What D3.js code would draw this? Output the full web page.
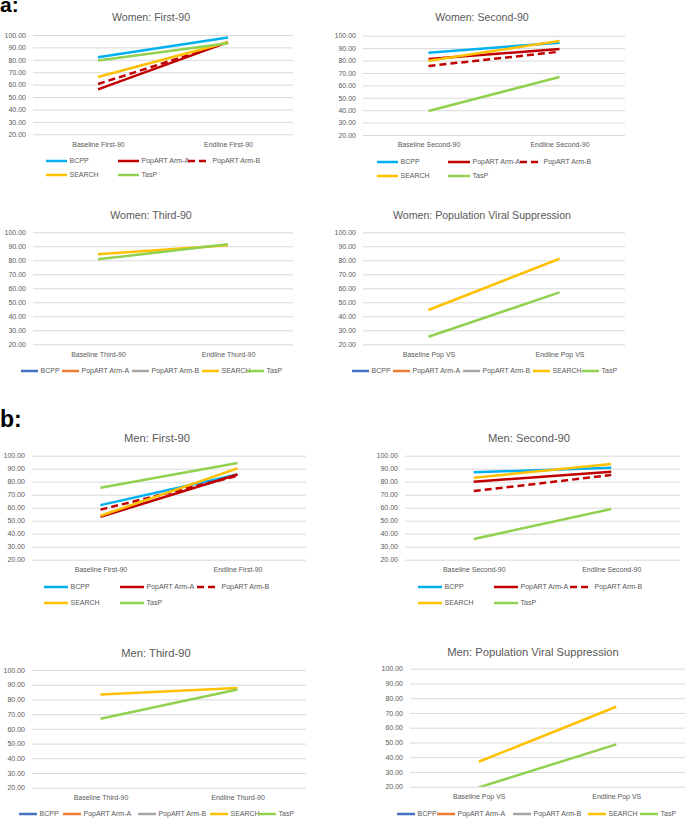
<!DOCTYPE html>
<html>
<head>
<meta charset="utf-8">
<script src="https://cdn.jsdelivr.net/npm/d3@7"></script>
<style>
  html, body { margin: 0; padding: 0; background: #fff; }
  svg { display: block; font-family: "Liberation Sans", Arial, sans-serif; }
</style>
</head>
<body>
<svg id="chart" width="685" height="820"></svg>
<script>
// ---------------- DATA ----------------
const seriesNames = ["BCPP", "PopART Arm-A", "PopART Arm-B", "SEARCH", "TasP"];
const yTickValues = [20, 30, 40, 50, 60, 70, 80, 90, 100];
const catsFirst = ["Baseline First-90", "Endline First-90"];
const catsSecond = ["Baseline Second-90", "Endline Second-90"];
const catsThird = ["Baseline Third-90", "Endline Thurd-90"];
const catsPopVS = ["Baseline Pop VS", "Endline Pop VS"];

// values [baseline, endline] in the order of seriesNames; null = not shown
const womenFirst90  = [[82.0, 97.9], [56.2, 94.3], [60.5, 94.0], [66.2, 94.1], [79.4, 93.4]];
const womenSecond90 = [[86.3, 94.4], [81.3, 89.3], [75.6, 87.1], [79.9, 95.7], [39.3, 66.7]];
const womenThird90  = [null, null, null, [84.3, 90.7], [80.7, 91.4]];
const womenPopVS    = [null, null, null, [44.5, 81.1], [25.4, 57.1]];
const menFirst90    = [[62.0, 85.5], [53.0, 85.5], [58.5, 84.5], [53.8, 90.3], [75.4, 94.4]];
const menSecond90   = [[87.2, 90.8], [80.0, 87.7], [72.8, 85.1], [83.0, 93.6], [35.9, 59.0]];
const menThird90    = [null, null, null, [83.4, 87.8], [66.9, 86.8]];
const menPopVS      = [null, null, null, [36.9, 74.2], [19.5, 48.7]];

// ---------------- STYLE ----------------
const lineColors = ["#00B0F0", "#C00000", "#C00000", "#FFC000", "#92D050"];
const lineDash   = [null, null, "7,4", null, null];
const defaultLegendColors = ["#4472C4", "#ED7D31", "#A5A5A5", "#FFC000", "#92D050"];
const textGrey = "#595959";
const gridGrey = "#D9D9D9";

const svg = d3.select("#chart");
svg.append("rect").attr("width", 685).attr("height", 820).attr("fill", "#fff");

// panel letters
svg.append("text").attr("x", 0).attr("y", 12).attr("font-size", 21).attr("font-weight", "bold")
  .attr("fill", "#000").text("a:");
svg.append("text").attr("x", 0).attr("y", 427).attr("font-size", 23).attr("font-weight", "bold")
  .attr("fill", "#000").text("b:");

// ---------------- LAYOUT ----------------
// legend item: [seriesIndex, lineStartX, rowY, lineLength]
const panels = [
  { title: "Women: First-90", tx: 151, ty: 21, ts: 10.6, cats: catsFirst, data: womenFirst90,
    x0: 33, x1: 293, yTop: 35, yBot: 134.3, legendColors: lineColors,
    legend: [[0, 46, 161, 21], [1, 118, 161, 21], [2, 188, 161, 22], [3, 46, 175, 21], [4, 118, 175, 21]] },
  { title: "Women: Second-90", tx: 482, ty: 21, ts: 10.6, cats: catsSecond, data: womenSecond90,
    x0: 363, x1: 625, yTop: 35.7, yBot: 135, legendColors: lineColors,
    legend: [[0, 377, 162, 21], [1, 448, 162, 22], [2, 520, 162, 21], [3, 377, 176, 21], [4, 448, 176, 22]] },
  { title: "Women: Third-90", tx: 151, ty: 219, ts: 10.6, cats: catsThird, data: womenThird90,
    x0: 33, x1: 293, yTop: 232.3, yBot: 344.3, legendColors: defaultLegendColors,
    legend: [[0, 21, 371, 17], [1, 62, 371, 17], [2, 132, 371, 17], [3, 202, 371, 17], [4, 247, 371, 17]] },
  { title: "Women: Population Viral Suppression", tx: 482, ty: 219, ts: 10.6, cats: catsPopVS, data: womenPopVS,
    x0: 363, x1: 625, yTop: 232.3, yBot: 344.3, legendColors: defaultLegendColors,
    legend: [[0, 352, 371, 17], [1, 393, 371, 17], [2, 463, 371, 17], [3, 533, 371, 17], [4, 582, 371, 17]] },
  { title: "Men: First-90", tx: 157, ty: 442, ts: 11.2, cats: catsFirst, data: menFirst90,
    x0: 32, x1: 306, yTop: 455.7, yBot: 559.7, legendColors: lineColors,
    legend: [[0, 44, 587, 24], [1, 120, 587, 24], [2, 197, 587, 22], [3, 44, 603, 24], [4, 120, 603, 24]] },
  { title: "Men: Second-90", tx: 529, ty: 442, ts: 11.2, cats: catsSecond, data: menSecond90,
    x0: 405, x1: 680, yTop: 455.7, yBot: 559.7, legendColors: lineColors,
    legend: [[0, 418, 587, 24], [1, 494, 587, 24], [2, 570, 587, 22], [3, 418, 603, 24], [4, 494, 603, 24]] },
  { title: "Men: Third-90", tx: 156, ty: 657, ts: 11.2, cats: catsThird, data: menThird90,
    x0: 32, x1: 306, yTop: 670, yBot: 787.7, legendColors: defaultLegendColors,
    legend: [[0, 19, 814, 18], [1, 63, 814, 18], [2, 138, 814, 18], [3, 210, 814, 18], [4, 258, 814, 18]] },
  { title: "Men: Population Viral Suppression", tx: 533, ty: 656, ts: 11.2, cats: catsPopVS, data: menPopVS,
    x0: 410, x1: 685, yTop: 668.7, yBot: 786.7, legendColors: defaultLegendColors,
    legend: [[0, 397, 814, 18], [1, 437, 814, 18], [2, 513, 814, 18], [3, 588, 814, 18], [4, 640, 814, 18]] }
];

panels.forEach((p, pi) => {
  const g = svg.append("g");
  const x = d3.scalePoint().domain(p.cats).range([p.x0, p.x1]).padding(0.5);
  const y = d3.scaleLinear().domain([20, 100]).range([p.yBot, p.yTop]);

  // title
  g.append("text").attr("x", p.tx).attr("y", p.ty).attr("text-anchor", "middle")
    .attr("font-size", p.ts).attr("fill", textGrey).text(p.title);

  // y axis + gridlines
  const yAxis = d3.axisLeft(y).tickValues(yTickValues).tickFormat(d3.format(".2f"))
    .tickSize(-(p.x1 - p.x0)).tickPadding(7);
  const ya = g.append("g").attr("transform", `translate(${p.x0},0)`).call(yAxis);
  ya.select(".domain").remove();
  ya.selectAll(".tick line").attr("stroke", gridGrey).attr("stroke-width", 1);
  ya.selectAll(".tick text").attr("fill", textGrey).attr("font-size", 7)
    .attr("font-family", "'Liberation Sans', Arial, sans-serif");

  // x axis labels
  const xAxis = d3.axisBottom(x).tickSize(0).tickPadding(7.5);
  const xa = g.append("g").attr("transform", `translate(0,${p.yBot})`).call(xAxis);
  xa.select(".domain").remove();
  xa.selectAll(".tick text").attr("fill", textGrey).attr("font-size", 7)
    .attr("font-family", "'Liberation Sans', Arial, sans-serif");

  // clip
  const clipId = "clip" + pi;
  svg.append("clipPath").attr("id", clipId).append("rect")
    .attr("x", p.x0).attr("y", p.yTop - 3).attr("width", p.x1 - p.x0).attr("height", p.yBot - p.yTop + 3);

  const line = d3.line().x((d, i) => x(p.cats[i])).y(d => y(d));
  const lg = g.append("g").attr("clip-path", `url(#${clipId})`);
  p.data.forEach((vals, si) => {
    if (!vals) return;
    lg.append("path").attr("d", line(vals)).attr("fill", "none")
      .attr("stroke", lineColors[si]).attr("stroke-width", 2.5)
      .attr("stroke-dasharray", lineDash[si]);
  });

  // legend
  p.legend.forEach(([si, lx, ly, len]) => {
    g.append("line").attr("x1", lx).attr("x2", lx + len).attr("y1", ly).attr("y2", ly)
      .attr("stroke", p.legendColors[si]).attr("stroke-width", 2.5)
      .attr("stroke-dasharray", p.legendColors === lineColors ? lineDash[si] : null);
    g.append("text").attr("x", lx + len + 2.5).attr("y", ly).attr("dy", "0.35em")
      .attr("font-size", 7).attr("fill", textGrey).text(seriesNames[si]);
  });
});
</script>
</body>
</html>
